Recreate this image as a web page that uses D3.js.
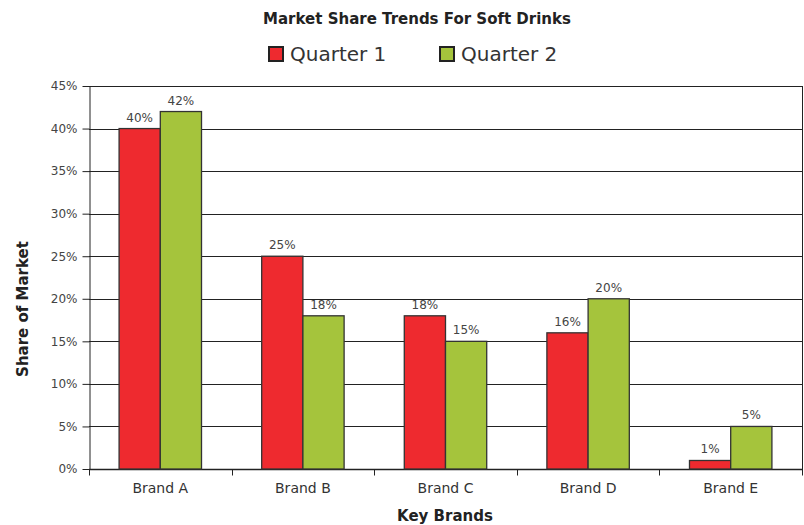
<!DOCTYPE html>
<html lang="en">
<head>
  <meta charset="UTF-8">
  <title>Market Share Trends For Soft Drinks</title>
  <script src="https://d3js.org/d3.v7.min.js"></script>
  <style>
    body { margin: 0; background: #fff; font-family: "DejaVu Sans", Arial, sans-serif; }
    text { fill: #333; }
  </style>
</head>
<body>
  <script>
    // chart data
    const brands = ["Brand A", "Brand B", "Brand C", "Brand D", "Brand E"];
    const series = ["Quarter 1", "Quarter 2"];
    const quarter1 = [40, 25, 18, 16, 1];
    const quarter2 = [42, 18, 15, 20, 5];
    const yTicks = [0, 5, 10, 15, 20, 25, 30, 35, 40, 45];
    const colors = ["#ee2a2f", "#a5c43c"];

    const width = 804, height = 525;
    const margin = { top: 86, right: 2, bottom: 56, left: 89 };

    const svg = d3.select("body").append("svg")
      .attr("width", width)
      .attr("height", height);

    const x = d3.scaleBand()
      .domain(brands)
      .range([margin.left, width - margin.right])
      .paddingInner(0)
      .paddingOuter(0);

    const xInner = d3.scaleBand()
      .domain(series)
      .range([0, x.bandwidth()])
      .paddingOuter(0.73);

    const y = d3.scaleLinear()
      .domain([0, 45])
      .range([height - margin.bottom, margin.top]);

    // gridlines
    svg.append("g")
      .selectAll("line")
      .data(yTicks)
      .join("line")
      .attr("x1", margin.left)
      .attr("x2", width - margin.right)
      .attr("y1", d => Math.round(y(d)) + 0.5)
      .attr("y2", d => Math.round(y(d)) + 0.5)
      .attr("stroke", "#222")
      .attr("stroke-width", 1);

    // right border
    svg.append("line")
      .attr("x1", width - margin.right + 0.5).attr("x2", width - margin.right + 0.5)
      .attr("y1", y(45)).attr("y2", y(0) + 6)
      .attr("stroke", "#222");

    // y axis
    const yAxis = svg.append("g")
      .attr("transform", `translate(${margin.left + 0.5},0)`)
      .call(d3.axisLeft(y).tickValues(yTicks).tickFormat(d => d + "%").tickSize(7).tickSizeOuter(0));
    yAxis.select(".domain").attr("stroke", "#222");
    yAxis.selectAll(".tick line").attr("stroke", "#222");
    yAxis.selectAll("text")
      .attr("x", -12)
      .style("font-family", "'DejaVu Sans', sans-serif")
      .style("font-size", "12px")
      .style("fill", "#444");

    // x axis (ticks at category boundaries)
    const baseY = Math.round(y(0)) + 0.5;
    svg.append("line")
      .attr("x1", margin.left).attr("x2", width - margin.right)
      .attr("y1", baseY).attr("y2", baseY)
      .attr("stroke", "#222").attr("stroke-width", 1.5);
    const bounds = brands.map(b => x(b)).concat([x(brands[brands.length - 1]) + x.bandwidth()]);
    svg.append("g").selectAll("line")
      .data(bounds)
      .join("line")
      .attr("x1", d => Math.round(d) + 0.5)
      .attr("x2", d => Math.round(d) + 0.5)
      .attr("y1", baseY)
      .attr("y2", baseY + 6)
      .attr("stroke", "#222");
    svg.append("g").selectAll("text")
      .data(brands)
      .join("text")
      .attr("x", d => x(d) + x.bandwidth() / 2)
      .attr("y", baseY + 23)
      .attr("text-anchor", "middle")
      .style("font-size", "14px")
      .style("fill", "#333")
      .text(d => d);

    // bars
    const rows = brands.map((b, i) => ({ brand: b, values: [quarter1[i], quarter2[i]] }));
    const groups = svg.append("g").selectAll("g")
      .data(rows)
      .join("g")
      .attr("transform", d => `translate(${x(d.brand)},0)`);

    groups.selectAll("rect")
      .data(d => d.values.map((v, j) => ({ key: series[j], value: v, j })))
      .join("rect")
      .attr("x", d => xInner(d.key))
      .attr("y", d => y(d.value))
      .attr("width", xInner.bandwidth())
      .attr("height", d => y(0) - y(d.value))
      .attr("fill", d => colors[d.j])
      .attr("stroke", "#333")
      .attr("stroke-width", 1.3);

    groups.selectAll("text")
      .data(d => d.values.map((v, j) => ({ key: series[j], value: v })))
      .join("text")
      .attr("x", d => xInner(d.key) + xInner.bandwidth() / 2)
      .attr("y", d => y(d.value) - 7)
      .attr("text-anchor", "middle")
      .style("font-size", "12px")
      .style("fill", "#444")
      .text(d => d.value + "%");

    // title
    svg.append("text")
      .attr("x", 417)
      .attr("y", 24)
      .attr("text-anchor", "middle")
      .style("font-size", "15px")
      .style("font-weight", "bold")
      .style("fill", "#222")
      .text("Market Share Trends For Soft Drinks");

    // legend
    const legendX = [269, 440];
    const legend = svg.append("g").selectAll("g")
      .data(series)
      .join("g")
      .attr("transform", (d, i) => `translate(${legendX[i]},47)`);
    legend.append("rect")
      .attr("width", 14).attr("height", 14)
      .attr("fill", (d, i) => colors[i])
      .attr("stroke", "#222").attr("stroke-width", 2);
    legend.append("text")
      .attr("x", 21).attr("y", 14)
      .style("font-size", "20px")
      .style("fill", "#333")
      .text(d => d);

    // axis titles
    svg.append("text")
      .attr("transform", "translate(28,309) rotate(-90)")
      .attr("text-anchor", "middle")
      .style("font-size", "15px")
      .style("font-weight", "bold")
      .style("fill", "#222")
      .text("Share of Market");

    svg.append("text")
      .attr("x", 445)
      .attr("y", 521)
      .attr("text-anchor", "middle")
      .style("font-size", "15px")
      .style("font-weight", "bold")
      .style("fill", "#222")
      .text("Key Brands");
  </script>
</body>
</html>
